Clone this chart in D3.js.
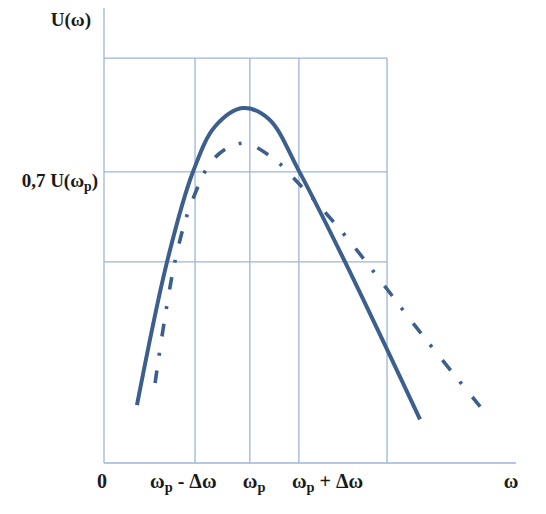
<!DOCTYPE html>
<html><head><meta charset="utf-8">
<script src="https://cdn.jsdelivr.net/npm/d3@7"></script>
<style>body{margin:0;background:#fff}svg{display:block}text{font-family:"Liberation Serif","Times New Roman",serif;font-weight:bold;fill:#1a1a1a}</style>
</head><body><svg id="c" width="546" height="514"></svg>
<script>
// data (arbitrary units, x: 0..100, y: 0..100)
const gridX = [22.1, 35.4, 47.3, 68.7];
const gridY = [44.2, 64.0, 89.0];
const xTickValues = [0, 22.1, 35.4, 47.3, 100];
const xTickLabels = [["0",""],["ω","p"," - Δω"],["ω","p",""],["ω","p"," + Δω"],["ω",""]];
const yLabelValues = [64.0, 100];
const yLabels = [["0,7 U(ω","p",")"],["U(ω)","",""]];
const solidX = [8.0,15.3,21.6,27.0,33.7,40.0,47.3,58.5,76.7];
const solidY = [12.7,44.2,64.0,74.0,78.0,75.6,64.2,44.2,9.6];
const dashX = [12.4,17.2,21.4,26.9,33.7,41.0,47.1,58.5,77.9,91.3];
const dashY = [17.6,44.2,57.6,67.1,70.3,67.0,61.6,50.0,27.4,12.4];

const svg = d3.select("#c");
const x = d3.scaleLinear().domain([0,100]).range([104,516]);
const y = d3.scaleLinear().domain([0,100]).range([463,8]);
const gridCol = "#9fb4da", curveCol = "#3c5f8e";
const xMax = gridX[gridX.length-1], yMax = gridY[gridY.length-1];

// grid
svg.selectAll(".gx").data(gridX).join("line")
  .attr("x1",d=>x(d)).attr("x2",d=>x(d)).attr("y1",y(0)).attr("y2",y(yMax))
  .attr("stroke",gridCol).attr("stroke-width",1.3);
svg.selectAll(".gy").data(gridY).join("line")
  .attr("x1",x(0)).attr("x2",x(xMax)).attr("y1",d=>y(d)).attr("y2",d=>y(d))
  .attr("stroke",gridCol).attr("stroke-width",1.3);
// axes
svg.append("line").attr("x1",x(0)).attr("x2",x(100)).attr("y1",y(0)).attr("y2",y(0)).attr("stroke",gridCol).attr("stroke-width",1.3);
svg.append("line").attr("x1",x(0)).attr("x2",x(0)).attr("y1",y(0)).attr("y2",y(100)).attr("stroke",gridCol).attr("stroke-width",1.3);

// curves
const line = d3.line().x(d=>x(d[0])).y(d=>y(d[1])).curve(d3.curveCatmullRom.alpha(0.5));
const dp = svg.append("path").attr("d",line(d3.zip(dashX,dashY))).attr("fill","none")
  .attr("stroke",curveCol).attr("stroke-width",3.6);
// dash-dot pattern fitted so the line starts and ends with a dash
const base = [13,15,3,17], per = d3.sum(base);
const L = dp.node().getTotalLength();
const n = Math.max(1, Math.round((L - base[0]) / per));
const k = (L - base[0]) / (n * per);
dp.attr("stroke-dasharray", base.map(v => (v * k).toFixed(2)).join(","));
svg.append("path").attr("d",line(d3.zip(solidX,solidY))).attr("fill","none")
  .attr("stroke",curveCol).attr("stroke-width",4);

// labels helper
function lab(t, parts, size){
  t.append("tspan").text(parts[0]);
  if(parts[1]) t.append("tspan").text(parts[1]).attr("font-size",size*0.72).attr("dy",4);
  if(parts[2]) t.append("tspan").text(parts[2]).attr("dy",parts[1]?-4:0);
}
const fsB = 20, fsL = 19;
const xAnch = ["middle","start","start","start","middle"];
const xOff = [-2,-45,-7,-7,-5];
xTickValues.forEach((v,i)=>{
  const t = svg.append("text").attr("x",x(v)+xOff[i]).attr("y",488).attr("font-size",fsB).attr("text-anchor",xAnch[i]);
  lab(t,xTickLabels[i],fsB);
});
yLabelValues.forEach((v,i)=>{
  const t = svg.append("text").attr("x",x(0)-(i==0?6:13)).attr("y",y(v)+(i==0?15:18)).attr("font-size",fsL).attr("text-anchor","end");
  lab(t,yLabels[i],fsL);
});
</script></body></html>
